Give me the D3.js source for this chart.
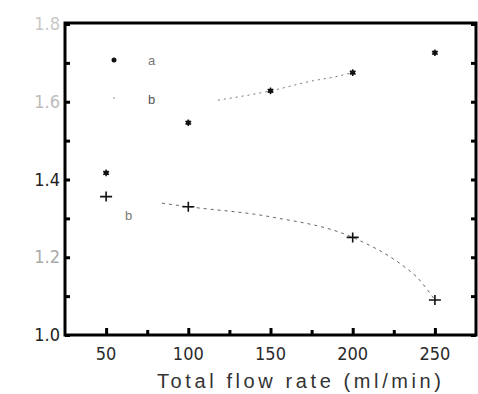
<!DOCTYPE html>
<html>
<head>
<meta charset="utf-8">
<script src="https://cdn.jsdelivr.net/npm/d3@7"></script>
<style>
  body { margin: 0; background: #fff; }
  svg { display: block; }
  .tick-label { font-family: "Liberation Sans Narrow", "DejaVu Sans Condensed", sans-serif; font-size: 18px; fill: #2a2a2a; }
</style>
</head>
<body>
<svg id="chart" width="478" height="394"></svg>
<script>
// flow rate (ml/min) vs measured ratio, two series a and b
const flowA = [50, 100, 150, 200, 250];
const valA = [1.417, 1.546, 1.628, 1.675, 1.726];
const flowB = [50, 100, 200, 250];
const valB = [1.356, 1.330, 1.251, 1.090];

// dotted fitted curves
const fitAx = [118, 150, 176, 188, 200];
const fitAy = [1.604, 1.628, 1.654, 1.663, 1.675];
const fitBx = [84, 100, 150, 200, 230, 239, 250];
const fitBy = [1.339, 1.330, 1.304, 1.251, 1.180, 1.149, 1.090];

const xTicks = [50, 100, 150, 200, 250];
const xMinor = [75, 125, 175, 225];
const yTicks = [1.0, 1.2, 1.4, 1.6, 1.8];
const yMinor = [1.1, 1.3, 1.5, 1.7];
const yLabelShade = ['#222', '#aaa', '#222', '#bbb', '#c8c8c8'];

const svg = d3.select('#chart');
const box = { left: 65, right: 476, top: 23, bottom: 335 };

const x = d3.scaleLinear().domain([25, 275]).range([box.left, box.right]);
const y = d3.scaleLinear().domain([1.0, 1.8]).range([box.bottom, 24]);

// frame
svg.append('rect')
  .attr('x', box.left).attr('y', box.top)
  .attr('width', box.right - box.left).attr('height', box.bottom - box.top)
  .attr('fill', 'none').attr('stroke', '#000').attr('stroke-width', 3);

// inward ticks
const bottomAxis = d3.axisTop(x).tickValues(xTicks).tickSize(7).tickFormat('');
svg.append('g').attr('transform', `translate(0,${box.bottom})`).call(bottomAxis)
  .call(g => g.select('.domain').remove())
  .selectAll('line').attr('stroke-width', 3);
svg.append('g').attr('transform', `translate(0,${box.bottom})`)
  .call(d3.axisTop(x).tickValues(xMinor).tickSize(5).tickFormat(''))
  .call(g => g.select('.domain').remove())
  .selectAll('line').attr('stroke-width', 3);

svg.append('g').attr('transform', `translate(${box.left},0)`)
  .call(d3.axisRight(y).tickValues(yTicks.concat(yMinor)).tickSize(5).tickFormat(''))
  .call(g => g.select('.domain').remove())
  .selectAll('line').attr('stroke-width', 3);
svg.append('g').attr('transform', `translate(${box.right},0)`)
  .call(d3.axisLeft(y).tickValues(yTicks.concat(yMinor)).tickSize(5).tickFormat(''))
  .call(g => g.select('.domain').remove())
  .selectAll('line').attr('stroke-width', 3);

// tick labels
svg.append('g').selectAll('text').data(xTicks).join('text')
  .attr('class', 'tick-label')
  .attr('x', d => x(d)).attr('y', box.bottom + 25)
  .attr('text-anchor', 'middle')
  .text(d => d);

svg.append('g').selectAll('text').data(yTicks).join('text')
  .attr('class', 'tick-label')
  .attr('x', 60).attr('y', d => y(d) + 6)
  .attr('text-anchor', 'end')
  .attr('fill', (d, i) => yLabelShade[i])
  .style('fill', (d, i) => yLabelShade[i])
  .text(d => d.toFixed(1));

// axis title
svg.append('text')
  .attr('x', 299).attr('y', 388)
  .attr('text-anchor', 'middle')
  .attr('textLength', 284).attr('lengthAdjust', 'spacing')
  .style('font-family', '"Liberation Sans", Arial, sans-serif')
  .style('font-size', '20px').style('fill', '#333')
  .text('Total flow rate (ml/min)');

// fitted curves
const line = d3.line().x(d => x(d[0])).y(d => y(d[1])).curve(d3.curveMonotoneX);
svg.append('path').datum(d3.zip(fitAx, fitAy))
  .attr('d', line).attr('fill', 'none')
  .attr('stroke', '#777').attr('stroke-width', 1).attr('stroke-dasharray', '2,4');
svg.append('path').datum(d3.zip(fitBx, fitBy))
  .attr('d', line).attr('fill', 'none')
  .attr('stroke', '#666').attr('stroke-width', 1).attr('stroke-dasharray', '3,4');

// markers
const star = d3.symbol().type(d3.symbolAsterisk || d3.symbolCross).size(30);
svg.append('g').selectAll('path').data(d3.zip(flowA, valA)).join('path')
  .attr('transform', d => `translate(${x(d[0])},${y(d[1])})`)
  .attr('d', d3.symbol().type(d3.symbolCircle).size(18)())
  .attr('fill', '#111');
svg.append('g').selectAll('path').data(d3.zip(flowA, valA)).join('path')
  .attr('transform', d => `translate(${x(d[0])},${y(d[1])})`)
  .attr('d', star())
  .attr('fill', 'none').attr('stroke', '#111').attr('stroke-width', 1.5);

const plus = d3.symbol().type(d3.symbolPlus).size(60);
svg.append('g').selectAll('path').data(d3.zip(flowB, valB)).join('path')
  .attr('transform', d => `translate(${x(d[0])},${y(d[1])})`)
  .attr('d', 'M-6,0H6M0,-5V5')
  .attr('fill', 'none').attr('stroke', '#111').attr('stroke-width', 1.6);

// legend
const legend = svg.append('g').attr('transform', 'translate(114,60)');
legend.append('circle').attr('r', 2.5).attr('fill', '#111');
legend.append('text').attr('x', 34).attr('y', 5).text('a')
  .style('font-family', '"Liberation Sans Narrow", sans-serif').style('font-size', '13px').style('fill', '#777');
legend.append('circle').attr('cy', 38).attr('r', 0.8).attr('fill', '#888');
legend.append('text').attr('x', 34).attr('y', 44).text('b')
  .style('font-family', '"Liberation Sans Narrow", sans-serif').style('font-size', '13px').style('fill', '#555');

// curve label
svg.append('text').attr('x', 125).attr('y', 220).text('b')
  .style('font-family', '"Liberation Sans Narrow", sans-serif').style('font-size', '13px').style('fill', '#777');
</script>
</body>
</html>
